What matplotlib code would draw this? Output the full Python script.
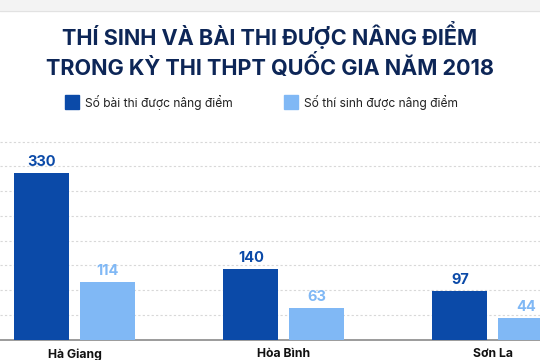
import matplotlib
matplotlib.use("Agg")
import matplotlib.pyplot as plt
import numpy as np

title_lines = ["THÍ SINH VÀ BÀI THI ĐƯỢC NÂNG ĐIỂM", "TRONG KỲ THI THPT QUỐC GIA NĂM 2018"]
categories = ["Hà Giang", "Hòa Bình", "Sơn La"]
series_names = ["Số bài thi được nâng điểm", "Số thí sinh được nâng điểm"]
bai_thi = [330, 140, 97]
thi_sinh = [114, 63, 44]

c_dark = "#0b4aa8"
c_light = "#80b8f5"
c_title = "#0d2657"

plt.rcParams['font.family'] = ['Inter', 'DejaVu Sans']

fig = plt.figure(figsize=(5.4, 3.6), dpi=100)
# top grey band
fig.patches.append(plt.Rectangle((0, 349/360), 1, 11/360, transform=fig.transFigure,
                                 color="#f3f3f3", zorder=0))
fig.lines.append(plt.Line2D([0, 1], [349/360, 349/360], transform=fig.transFigure,
                            color="#e2e2e2", lw=0.8))

ax = fig.add_axes([0, 20/360, 1, 210/360])
x = np.arange(len(categories))
w = 0.263
off = 0.158
ax.bar(x - off, bai_thi, w, color=c_dark, zorder=3)
ax.bar(x + off, thi_sinh, w, color=c_light, zorder=3)
for xi, v in zip(x - off, bai_thi):
    ax.text(xi, v + 8, str(v), ha="center", va="bottom", fontsize=10.5,
            fontweight="bold", color=c_dark)
for xi, v in zip(x + off, thi_sinh):
    ax.text(xi, v + 8, str(v), ha="center", va="bottom", fontsize=10.5,
            fontweight="bold", color=c_light)

ax.set_xlim(-0.358, 2.226)
ax.set_ylim(0, 416)
ax.set_yticks(np.arange(50, 416, 49))
ax.yaxis.grid(True, linestyle=(0, (2, 2)), color="#d8d8d8", lw=0.8, zorder=0)
ax.set_xticks(x)
ax.set_xticklabels(categories, fontsize=8.8, fontweight="bold", color="#111111")
ax.tick_params(axis="x", length=0, pad=6)
ax.tick_params(axis="y", length=0, labelleft=False)
for s in ["top", "left", "right"]:
    ax.spines[s].set_visible(False)
ax.spines["bottom"].set_color("#8a8a8a")
ax.spines["bottom"].set_linewidth(1.2)
ax.set_facecolor("none")

# title
fig.text(0.5, 1 - 35/360, title_lines[0], ha="center", va="center", fontsize=15.6,
         fontweight="bold", color=c_title)
fig.text(0.5, 1 - 66/360, title_lines[1], ha="center", va="center", fontsize=15.6,
         fontweight="bold", color=c_title)

# legend
for (sx, tx, name, col) in [(65, 85, series_names[0], c_dark), (284, 304, series_names[1], c_light)]:
    fig.patches.append(plt.Rectangle((sx/540, 1 - 109/360), 14/540, 14/360,
                                     transform=fig.transFigure, color=col))
    fig.text(tx/540, 1 - 102/360, name, ha="left", va="center", fontsize=8.7, color="#222222")

fig.savefig("out.png", dpi=100)
